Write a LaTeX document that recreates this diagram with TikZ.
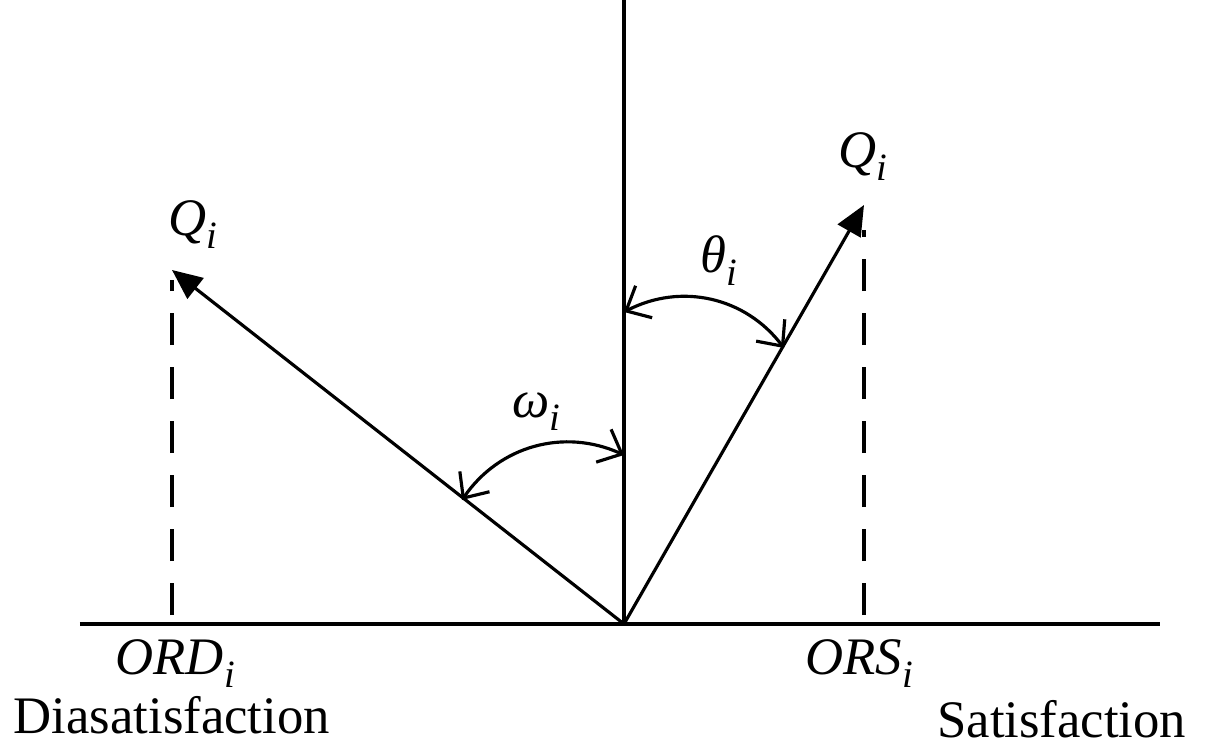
\documentclass[tikz,border=0pt]{standalone}
\usepackage{fontspec}
\setmainfont{Liberation Serif}
\usetikzlibrary{arrows.meta, positioning}

\newcommand{\isub}[2]{\textit{#1}\raisebox{-0.25em}{\fontsize{11}{11}\selectfont\textit{#2}}}

\begin{document}
\begin{tikzpicture}[
    axis/.style={draw=black, line width=0.9pt},
    vect/.style={draw=black, line width=0.9pt, -{Triangle[length=3mm, width=2.6mm]}},
    proj/.style={draw=black, line width=0.9pt, dash pattern=on 3.2mm off 2.2mm},
    angarc/.style={draw=black, line width=0.9pt, {Straight Barb[length=2mm, width=3.6mm]}-{Straight Barb[length=2mm, width=3.6mm]}},
    lbl/.style={inner sep=0pt, anchor=base west, font=\fontsize{15}{18}\selectfont},
    caption/.style={inner sep=0pt, font=\fontsize{15}{18}\selectfont}
]
    \useasboundingbox (-6.24,-1.20) rectangle (5.82,6.24);

    % axes
    \coordinate (O) at (0,0);
    \coordinate (xl) at (-5.44,0);
    \coordinate (xr) at (5.36,0);
    \coordinate (yt) at (0,6.24);
    \draw[axis] (xl) -- (xr);
    \draw[axis] (O) -- (yt);

    % vectors
    \coordinate (ql) at (-4.52,3.54);
    \coordinate (qr) at (2.40,4.19);
    \draw[vect] (O) -- (ql);
    \draw[vect] (O) -- (qr);

    % projections
    \coordinate (ordb) at (-4.52,0.09);
    \coordinate (ordt) at (-4.52,3.44);
    \coordinate (orsb) at (2.40,0.09);
    \coordinate (orst) at (2.40,3.94);
    \draw[proj] (ordb) -- (ordt);
    \draw[proj] (orsb) -- (orst);

    % angles
    \coordinate (wa) at (-1.62,1.24);
    \coordinate (wb) at (0,1.69);
    \coordinate (ta) at (0,3.12);
    \coordinate (tb) at (1.60,2.76);
    \draw[angarc] (wa) to[bend left=40] (wb);
    \draw[angarc] (ta) to[bend left=40] (tb);

    % labels
    \node[lbl] (qlabl) at (-4.56,3.89) {\isub{Q}{i}};
    \node[lbl] (qlabr) at (2.14,4.57) {\isub{Q}{i}};
    \node[lbl] (omega) at (-1.12,2.07) {\isub{ω}{i}};
    \node[lbl] (theta) at (0.76,3.52) {\isub{θ}{i}};
    \node[lbl] (ord) at (-5.09,-0.50) {\isub{ORD}{i}};
    \node[lbl] (ors) at (1.81,-0.50) {\isub{ORS}{i}};
    \node[caption, anchor=base west] (dis) at (-6.11,-1.09) {Diasatisfaction};
    \node[caption, anchor=base east] (sat) at (5.63,-1.13) {Satisfaction};
\end{tikzpicture}
\end{document}
